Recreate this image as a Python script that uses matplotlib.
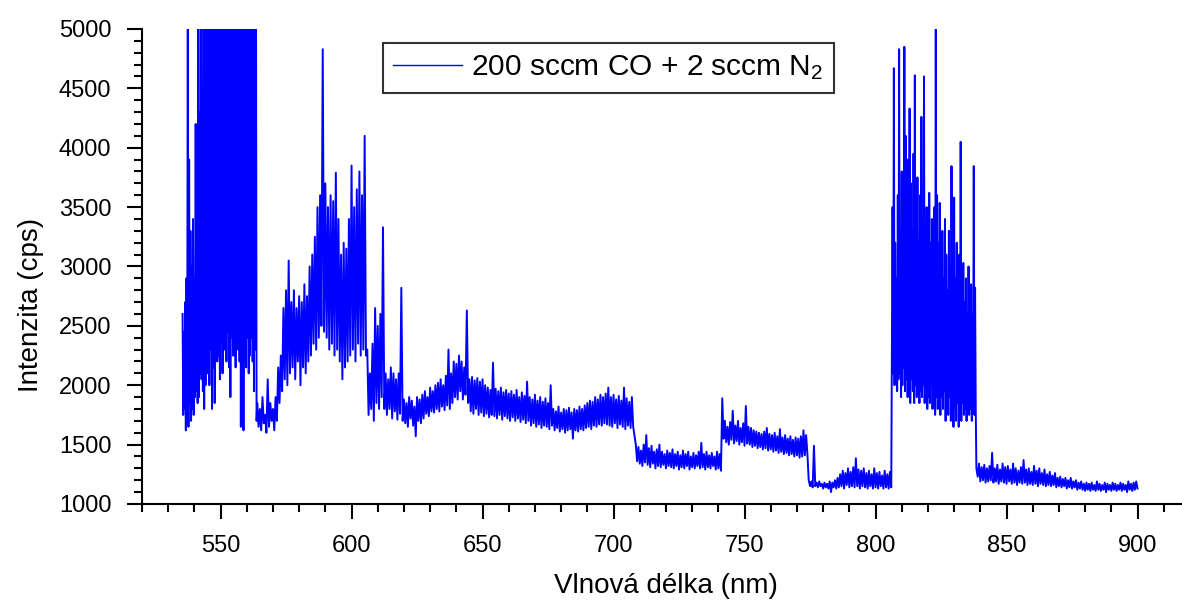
import numpy as np
import matplotlib
import matplotlib.pyplot as plt
from matplotlib.ticker import MultipleLocator

matplotlib.rc('font', family='Liberation Sans', size=17)
matplotlib.rc('mathtext', fontset='custom', rm='Liberation Sans', default='regular')
matplotlib.rc('path', simplify=False)

# intenzita (cps); kazdy usek zacina na dane vlnove delce, krok je uveden u seznamu useku
start_a = 535.5   # krok 0.25 nm
cps_a = [2600, 1750, 2450, 1800, 2700, 1620, 2900, 1700, 5400, 1650,
         3900, 1850, 3300, 1700, 3000, 1800, 3400, 1750, 2900, 1900,
         4200, 1950, 3600, 1850, 5600, 1900, 4300, 2100, 5400, 2050,
         4500, 1950, 5800, 1800, 5200, 2000, 5900, 2100, 6000, 2200,
         6000, 2000, 6000, 2300, 6000, 1800, 6000, 2150, 6000, 1850,
         6000, 2400, 6000, 2200, 6000, 2250, 6000, 2050, 6000, 2350,
         6000, 2100, 6000, 2300, 6000, 2300, 6000, 2200, 6000, 2450,
         6000, 2150, 6000, 1900, 6000, 2400, 6000, 2250, 6000, 2250,
         6000, 2150, 6000, 2450, 6000, 2300, 6000, 2200, 6000, 1650,
         6000, 2350, 6000, 1620, 6000, 2200, 6000, 2150, 6000, 2400,
         6000, 2100, 6000, 2250, 6000, 2400, 6000, 2200, 6000, 1950,
         6000, 2300, 6000, 1700]

start_b = 564.0   # krok 0.5 nm
cps_b = [1850, 1650, 1800, 1620, 1900, 1680, 1750, 1600, 2050, 1650,
         1850, 1700, 1800, 1620, 1900, 1700, 2150, 1850, 2250, 1950,
         2650, 2050, 2800, 2000, 3050, 2100, 2700, 2150, 2800, 2050,
         2650, 2200, 2750, 2000, 2700, 2150, 2850, 2100, 2750, 2200,
         3000, 2250, 3100, 2350, 3250, 2300, 3500, 2400, 3600, 2500,
         4830, 2450, 3700, 2400, 3500, 2300, 3600, 2350, 3550, 2250,
         3790, 2300, 3400, 2200, 3100, 2050, 3200, 2150, 3150, 2200,
         3400, 2250, 3850, 2300, 3500, 2200, 3650, 2350, 3800, 2250,
         3600, 2300, 4100, 2250]

start_c = 606.0   # krok 0.5 nm
cps_c = [2300, 1750, 2100, 1800, 2350, 1700, 2650, 1850, 2500, 1800,
         2600, 1900, 3330, 1800, 2100, 1750, 2050, 1800, 2150, 1720,
         2100, 1780, 2050, 1710, 2100, 1760, 2820, 1700, 1880, 1680,
         1850, 1650, 1900, 1720, 1870, 1660, 1820, 1570, 1900, 1700,
         1880, 1680, 1920, 1720, 1950, 1760, 1900, 1740, 1980, 1780,
         1950, 1770, 2000, 1800, 2020, 1780, 2050, 1820, 2000, 1790,
         2080, 1830, 2300, 1800, 2100, 1850, 2200, 1900, 2180, 1880,
         2250, 1950, 2200, 1880, 2150, 1920, 2630, 1850, 2050, 1780,
         2070, 1760, 2040, 1800, 2060, 1750, 2030, 1770, 2050, 1740,
         2000, 1760, 1980, 1730, 1960, 1750, 2190, 1740, 1970, 1720,
         1950, 1750, 1980, 1710, 1940, 1740, 1960, 1720, 1930, 1700,
         1950, 1730, 1920, 1700, 1960, 1720, 1900, 1690, 1940, 1710,
         1910, 1680, 2030, 1700, 1900, 1660, 1880, 1680, 1920, 1650,
         1870, 1670, 1900, 1640, 1860, 1660, 1890, 1650, 1850, 1630,
         2000, 1660, 1800, 1620, 1780, 1640, 1820, 1610, 1770, 1630,
         1800, 1600, 1790, 1620, 1810, 1630, 1770, 1550, 1800, 1620,
         1790, 1610, 1820, 1630, 1800, 1620, 1830, 1640, 1850, 1650,
         1870, 1630, 1860, 1660, 1900, 1650, 1880, 1670, 1920, 1660,
         1900, 1680, 1930, 1670, 1980, 1660, 1900, 1650, 1920, 1680,
         1880, 1640, 1910, 1670, 1870, 1650, 1980, 1630, 1890, 1660,
         1860, 1640, 1900, 1650]

start_d = 708.5   # krok 0.5 nm
cps_d = [1500, 1360, 1480, 1340, 1450, 1320, 1500, 1350, 1580, 1330,
         1470, 1310, 1490, 1340, 1440, 1300, 1460, 1320, 1500, 1310,
         1440, 1330, 1420, 1300, 1450, 1320, 1430, 1310, 1460, 1300,
         1420, 1320, 1440, 1290, 1410, 1310, 1450, 1300, 1420, 1320,
         1440, 1290, 1400, 1310, 1430, 1300, 1410, 1320, 1440, 1300,
         1515, 1310, 1420, 1290, 1440, 1310, 1410, 1300, 1430, 1320,
         1400, 1290, 1440, 1300, 1420, 1280]

start_e = 741.5   # krok 0.5 nm
cps_e = [1890, 1550, 1700, 1520, 1650, 1500, 1690, 1540, 1785, 1510,
         1660, 1530, 1700, 1500, 1640, 1520, 1680, 1490, 1825, 1510,
         1650, 1500, 1640, 1480, 1620, 1490, 1610, 1470, 1600, 1480,
         1590, 1460, 1610, 1470, 1640, 1450, 1590, 1460, 1580, 1440,
         1600, 1450, 1570, 1430, 1630, 1440, 1560, 1420, 1580, 1430,
         1550, 1410, 1570, 1420, 1540, 1400, 1560, 1410, 1550, 1390,
         1570, 1400, 1620, 1410, 1580, 1420]

start_f = 774.5   # krok 0.5 nm
cps_f = [1200, 1150, 1190, 1140, 1490, 1150, 1180, 1140, 1190, 1150,
         1170, 1130, 1180, 1140, 1170, 1130, 1190, 1100, 1180, 1140,
         1200, 1130, 1220, 1140, 1250, 1150, 1280, 1130, 1260, 1160,
         1300, 1140, 1270, 1150, 1310, 1140, 1385, 1150, 1290, 1130,
         1280, 1150, 1300, 1140, 1260, 1130, 1280, 1150, 1250, 1130,
         1300, 1140, 1260, 1130, 1270, 1150, 1240, 1130, 1280, 1140,
         1250, 1130, 1270, 1140]

start_g = 806.5   # krok 0.25 nm
cps_g = [3500, 2100, 4670, 2000, 3200, 2150, 2900, 1950, 3600, 2050,
         4830, 2100, 3300, 1900, 3800, 2000, 3400, 2150, 4850, 1950,
         4100, 2050, 3500, 1900, 3900, 2000, 4330, 1850, 3700, 2050,
         3300, 1950, 3950, 1850, 4610, 2000, 3500, 1900, 3750, 2050,
         3200, 1850, 3600, 1950, 4260, 1900, 3400, 2000, 4600, 1850,
         3300, 1950, 3500, 1800, 3100, 1900, 3620, 1850, 3200, 2000,
         3400, 1800, 3000, 1950, 3500, 1750, 5050, 1900, 3600, 1800,
         3200, 1950, 3535, 1750, 3000, 1900, 3300, 1800, 2900, 1950,
         3400, 1700, 3100, 1850, 2800, 1750, 3300, 1900, 3000, 1700,
         3845, 1850, 3100, 1650, 3580, 1800, 2900, 1700, 3200, 1850,
         2800, 1650, 3100, 1800, 4050, 1700, 2950, 1850, 3030, 1750,
         2700, 1800, 2900, 1700, 2600, 1850, 3000, 1750, 2700, 1800,
         2850, 1700, 2600, 1850, 3845, 1750, 2820, 1800]

start_h = 838.5   # krok 0.5 nm
cps_h = [1300, 1230, 1340, 1190, 1310, 1200, 1330, 1180, 1300, 1190,
         1320, 1200, 1430, 1180, 1300, 1190, 1330, 1170, 1290, 1190,
         1340, 1180, 1310, 1170, 1320, 1190, 1290, 1170, 1340, 1180,
         1300, 1160, 1280, 1180, 1310, 1170, 1370, 1180, 1290, 1160,
         1300, 1170, 1270, 1160, 1320, 1170, 1280, 1150, 1300, 1170,
         1260, 1160, 1290, 1150, 1250, 1160, 1270, 1150, 1240, 1160,
         1260, 1140, 1220, 1150, 1230, 1140, 1210, 1150, 1220, 1130,
         1200, 1140, 1220, 1130, 1190, 1140, 1200, 1120, 1180, 1130,
         1190, 1120, 1170, 1110, 1180, 1120, 1170, 1110, 1180, 1120,
         1160, 1110, 1190, 1120, 1170, 1110, 1160, 1120, 1180, 1100,
         1170, 1120, 1160, 1110, 1180, 1120, 1170, 1110, 1160, 1120,
         1180, 1110, 1170, 1120, 1160, 1100, 1190, 1120, 1170, 1110,
         1180, 1120, 1190, 1130]

useky = [(start_a, 0.25, cps_a), (start_b, 0.5, cps_b), (start_c, 0.5, cps_c),
         (start_d, 0.5, cps_d), (start_e, 0.5, cps_e), (start_f, 0.5, cps_f),
         (start_g, 0.25, cps_g), (start_h, 0.5, cps_h)]

wl = []
cps = []
for start, krok, hodnoty in useky:
    wl.extend(start + krok * np.arange(len(hodnoty)))
    cps.extend(hodnoty)

fig = plt.figure(figsize=(11.82, 6.04), dpi=100)
ax = fig.add_axes([0.1201, 0.1656, 0.8866, 0.7864])

ax.plot(wl, cps, color='#0000ff', lw=1.4, label=r'200 sccm CO + 2 sccm N$_2$')

ax.set_xlim(520, 920)
ax.set_ylim(1000, 5000)
ax.xaxis.set_major_locator(MultipleLocator(50))
ax.xaxis.set_minor_locator(MultipleLocator(10))
ax.yaxis.set_major_locator(MultipleLocator(500))
ax.yaxis.set_minor_locator(MultipleLocator(100))

for s in ['top', 'right']:
    ax.spines[s].set_visible(False)
for s in ['left', 'bottom']:
    ax.spines[s].set_linewidth(1.5)

ax.tick_params(which='major', direction='out', length=11, width=1.5, labelsize=17, pad=11)
ax.tick_params(which='minor', direction='out', length=6, width=1.5)

ax.set_xlabel('Vlnová délka (nm)', fontsize=20, labelpad=12)
ax.set_ylabel('Intenzita (cps)', fontsize=20)
ax.yaxis.set_label_coords(-0.093, 0.42)

leg = ax.legend(loc='upper left', bbox_to_anchor=(0.23, 0.9705), borderaxespad=0,
                fancybox=False, edgecolor='black', fontsize=21.5, handlelength=2.3,
                borderpad=0.35, handletextpad=0.3)
leg.get_frame().set_linewidth(1.5)
leg.get_lines()[0].set_linewidth(1.0)

fig.savefig('out.png', dpi=100)
